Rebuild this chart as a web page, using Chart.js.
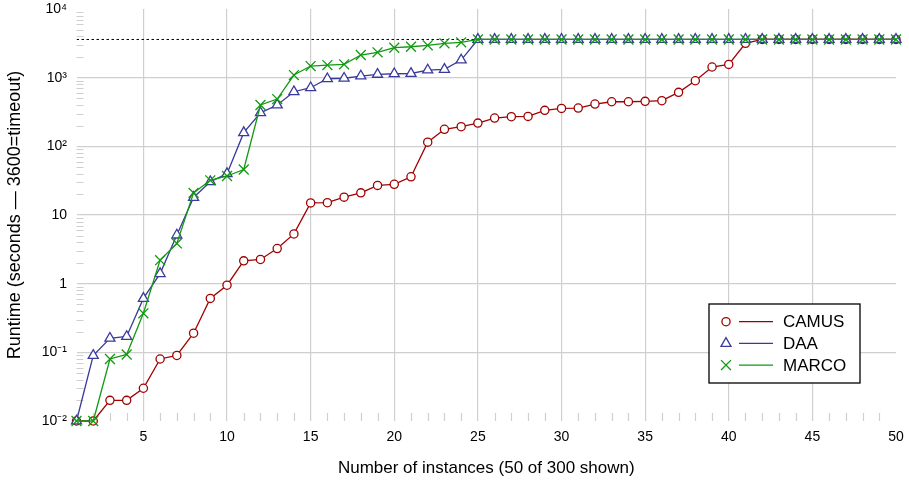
<!DOCTYPE html>
<html><head><meta charset="utf-8">
<script src="https://cdn.jsdelivr.net/npm/chart.js@4/dist/chart.umd.min.js"></script>
<style>html,body{margin:0;padding:0;background:#fff;}canvas{display:block;}</style>
</head><body>
<canvas id="c" width="909" height="482"></canvas>
<script>
const INSTANCES = [1,2,3,4,5,6,7,8,9,10,11,12,13,14,15,16,17,18,19,20,21,22,23,24,25,26,27,28,29,30,31,32,33,34,35,36,37,38,39,40,41,42,43,44,45,46,47,48,49,50];
const CAMUS = [0.01,0.01,0.02,0.02,0.03,0.08,0.09,0.19,0.61,0.95,2.15,2.25,3.25,5.3,15,15.1,18.2,21,27,28,36,115,177,193,218,258,270,273,334,357,361,413,446,446,452,462,611,902,1430,1560,3160,3600,3600,3600,3600,3600,3600,3600,3600,3600];
const DAA = [0.01,0.09,0.16,0.17,0.61,1.4,5.1,18,30.5,40,158,308,400,624,713,964,980,1056,1117,1140,1150,1290,1320,1806,3600,3600,3600,3600,3600,3600,3600,3600,3600,3600,3600,3600,3600,3600,3600,3600,3600,3600,3600,3600,3600,3600,3600,3600,3600,3600];
const MARCO = [0.01,0.01,0.08,0.093,0.37,2.2,3.85,21,32,37,46,400,488,1092,1477,1527,1563,2137,2340,2730,2822,2956,3162,3270,3600,3600,3600,3600,3600,3600,3600,3600,3600,3600,3600,3600,3600,3600,3600,3600,3600,3600,3600,3600,3600,3600,3600,3600,3600,3600];
const TIMEOUT = 3600;
const SERIES_NAMES = ['CAMUS','DAA','MARCO'];
const X_TICKS = [5,10,15,20,25,30,35,40,45,50];
const Y_TICKS = [0.01,0.1,1,10,100,1000,10000];
const Y_TICK_LABELS = ['10\u207B\u00B2','10\u207B\u00B9','1','10','10\u00B2','10\u00B3','10\u2074'];
const MINOR_MULT = [2,3,4,5,6,7,8,9];
const X_TITLE = 'Number of instances (50 of 300 shown)';
const Y_TITLE = 'Runtime (seconds \u2014 3600=timeout)';

const FONT = "'Liberation Sans', Arial, sans-serif";
const GRID = '#cfcfcf';
const COLORS = ['#a00000', '#3a3a9c', '#119911'];
const STYLES = [
  {pointStyle:'circle', radius:4.1, fill:'#ffffff'},
  {pointStyle:'triangle', radius:5.8, fill:'#ffffff'},
  {pointStyle:'crossRot', radius:7, fill:'#ffffff'}
];
const SERIES = [CAMUS, DAA, MARCO];
const xMin = INSTANCES[0], xMax = INSTANCES[INSTANCES.length-1];

const datasets = SERIES.map((vals, i) => ({
  label: SERIES_NAMES[i],
  data: INSTANCES.map((x, j) => ({x: x, y: vals[j]})),
  borderColor: COLORS[i],
  borderWidth: 1.3,
  pointStyle: STYLES[i].pointStyle,
  pointRadius: STYLES[i].radius,
  pointHoverRadius: STYLES[i].radius,
  pointBorderWidth: 1.3,
  pointBorderColor: COLORS[i],
  pointBackgroundColor: STYLES[i].fill,
  tension: 0,
  fill: false,
  clip: false,
  order: 3 - i
}));
datasets.push({
  label: 'timeout',
  data: [{x: xMin, y: TIMEOUT}, {x: xMax, y: TIMEOUT}],
  borderColor: '#000000',
  borderWidth: 1,
  borderDash: [2.5, 2.5],
  pointRadius: 0,
  fill: false,
  order: 10
});

const minorTicks = {
  id: 'minorTicks',
  beforeDatasetsDraw(chart) {
    const {ctx, chartArea: a, scales: {x, y}} = chart;
    ctx.save();
    ctx.strokeStyle = GRID;
    ctx.lineWidth = 1.2;
    ctx.beginPath();
    for (let k = 0; k < Y_TICKS.length - 1; k++) {
      for (const m of MINOR_MULT) {
        const py = Math.round(y.getPixelForValue(Y_TICKS[k] * m)) + 0.5;
        ctx.moveTo(a.left, py); ctx.lineTo(a.left + 7, py);
      }
    }
    for (const v of INSTANCES) {
      if (X_TICKS.includes(v)) continue;
      const px = Math.round(x.getPixelForValue(v)) + 0.5;
      ctx.moveTo(px, a.bottom - 8); ctx.lineTo(px, a.bottom);
    }
    ctx.stroke();
    ctx.restore();
  }
};

function drawMarker(ctx, style, r, cx, cy) {
  ctx.beginPath();
  if (style === 'circle') {
    ctx.arc(cx, cy, r, 0, Math.PI * 2);
    ctx.fill(); ctx.stroke();
  } else if (style === 'triangle') {
    for (let k = 0; k < 3; k++) {
      const ang = k * 2 * Math.PI / 3;
      const px = cx + Math.sin(ang) * r, py = cy - Math.cos(ang) * r;
      if (k === 0) ctx.moveTo(px, py); else ctx.lineTo(px, py);
    }
    ctx.closePath(); ctx.fill(); ctx.stroke();
  } else {
    const d = Math.cos(Math.PI / 4) * r;
    ctx.moveTo(cx - d, cy - d); ctx.lineTo(cx + d, cy + d);
    ctx.moveTo(cx + d, cy - d); ctx.lineTo(cx - d, cy + d);
    ctx.stroke();
  }
}

const boxLegend = {
  id: 'boxLegend',
  afterDraw(chart) {
    const {ctx, chartArea: a} = chart;
    const right = a.right - 36, bottom = a.bottom - 38;
    const w = 151, h = 79;
    const left = right - w, top = bottom - h;
    ctx.save();
    ctx.fillStyle = '#ffffff';
    ctx.fillRect(left, top, w, h);
    ctx.strokeStyle = '#000000';
    ctx.lineWidth = 1.3;
    ctx.strokeRect(left, top, w, h);
    ctx.font = '17px ' + FONT;
    ctx.textBaseline = 'middle';
    ctx.textAlign = 'left';
    SERIES_NAMES.forEach((name, i) => {
      const cy = top + 17.7 + i * 21.7;
      ctx.strokeStyle = COLORS[i];
      ctx.fillStyle = STYLES[i].fill;
      ctx.lineWidth = 1.3;
      drawMarker(ctx, STYLES[i].pointStyle, STYLES[i].radius, left + 17, cy);
      ctx.lineWidth = 1.3;
      ctx.beginPath();
      ctx.moveTo(left + 30, cy); ctx.lineTo(left + 64, cy);
      ctx.stroke();
      ctx.fillStyle = '#000000';
      ctx.fillText(name, left + 74, cy + 1);
    });
    ctx.restore();
  }
};

new Chart(document.getElementById('c'), {
  type: 'line',
  data: { datasets },
  options: {
    responsive: false,
    devicePixelRatio: 1,
    animation: false,
    events: [],
    layout: { padding: { top: 9, right: 13, bottom: 0, left: 0 } },
    plugins: { legend: { display: false }, tooltip: { enabled: false } },
    scales: {
      x: {
        type: 'linear',
        min: xMin, max: xMax,
        afterBuildTicks: s => { s.ticks = X_TICKS.map(v => ({value: v})); },
        afterFit: s => { s.height = 61; s.paddingLeft = 0; s.paddingRight = 0; },
        border: { display: false },
        grid: {
          drawTicks: false,
          lineWidth: 1.2,
          color: c => (c.tick && (c.tick.value === xMax || c.tick.value === xMin)) ? 'rgba(0,0,0,0)' : GRID
        },
        ticks: {
          padding: 8,
          color: '#000000',
          font: { family: FONT, size: 14 },
          maxRotation: 0,
          autoSkip: false,
          callback: v => String(v)
        },
        title: {
          display: true,
          text: X_TITLE,
          color: '#000000',
          font: { family: FONT, size: 17 },
          padding: { top: 0, bottom: 3 }
        }
      },
      y: {
        type: 'logarithmic',
        min: Y_TICKS[0], max: Y_TICKS[Y_TICKS.length - 1],
        afterBuildTicks: s => { s.ticks = Y_TICKS.map(v => ({value: v})); },
        afterFit: s => { s.width = 76.5; s.paddingTop = 0; s.paddingBottom = 0; },
        border: { display: false },
        grid: {
          drawTicks: false,
          lineWidth: 1.2,
          color: c => (c.tick && (c.tick.value === Y_TICKS[0] || c.tick.value === Y_TICKS[Y_TICKS.length-1])) ? 'rgba(0,0,0,0)' : GRID
        },
        ticks: {
          padding: 9.5,
          color: '#000000',
          font: { family: FONT, size: 14 },
          autoSkip: false,
          callback: function(v) { const i = Y_TICKS.indexOf(v); return i >= 0 ? Y_TICK_LABELS[i] : ''; }
        },
        title: {
          display: true,
          text: Y_TITLE,
          color: '#000000',
          font: { family: FONT, size: 18 },
          padding: { top: 4, bottom: 0 }
        }
      }
    }
  },
  plugins: [minorTicks, boxLegend]
});
</script>
</body></html>
